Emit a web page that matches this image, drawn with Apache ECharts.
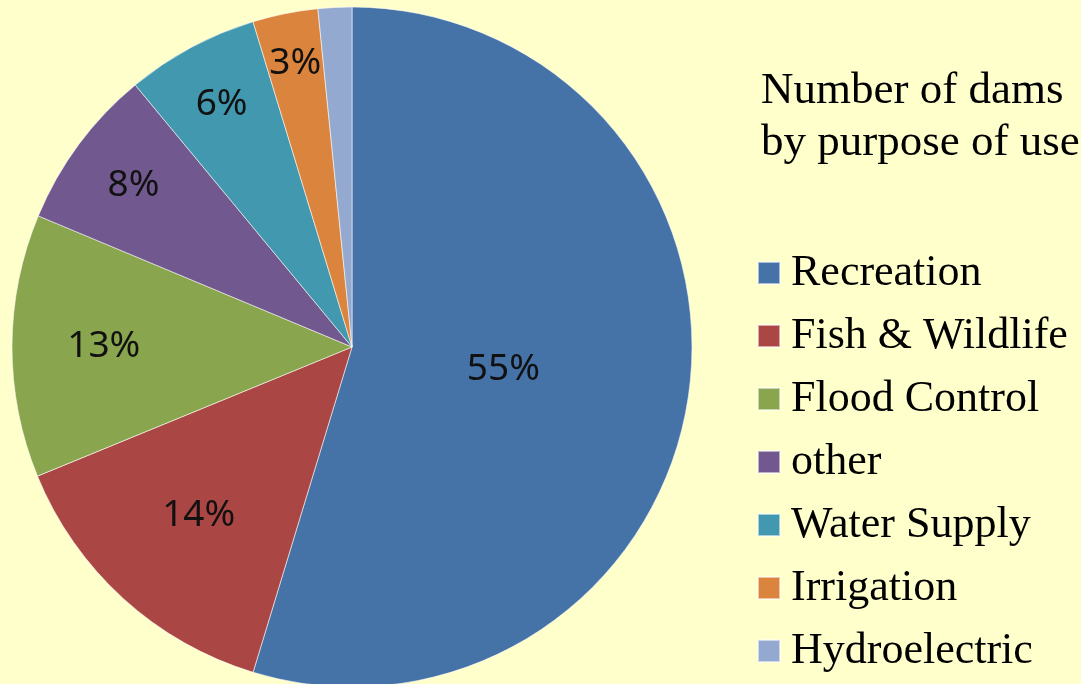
<!DOCTYPE html>
<html>
<head>
<meta charset="utf-8">
<script src="https://cdn.jsdelivr.net/npm/echarts@6/dist/echarts.min.js"></script>
<style>
  html, body { margin: 0; padding: 0; background: #FFFFCC; }
  #pie { width: 1081px; height: 684px; }
</style>
</head>
<body>
<div id="pie"></div>
<script>
  // values (percent of dams)
  const purposes = ['Recreation', 'Fish & Wildlife', 'Flood Control', 'other', 'Water Supply', 'Irrigation', 'Hydroelectric']
  const shares = [54.7, 14.1, 12.5, 7.7, 6.3, 3.1, 1.6]
  const colors = ['#4572A7', '#AA4643', '#89A54E', '#71588F', '#4198AF', '#DB843D', '#93A9CF']

  const cx = 352, cy = 347, r = 340
  const total = shares.reduce((a, b) => a + b, 0)

  // where Excel-ish best fit puts each label, as a fraction of radius
  function labelFrac(p) {
    if (p > 40) return 0.45
    if (p > 13) return 0.67
    if (p > 10) return 0.73
    if (p > 7) return 0.8
    if (p > 5) return 0.81
    return 0.85
  }

  let pieChart = echarts.init(document.getElementById('pie'))
  const option = {
    backgroundColor: '#FFFFCC',
    color: colors,
    title: {
      text: 'Number of dams\nby purpose of use',
      left: 756,
      top: 60,
      textStyle: {
        fontFamily: 'Liberation Serif',
        fontSize: 45,
        fontWeight: 'normal',
        color: '#000',
        lineHeight: 52
      }
    },
    legend: {
      orient: 'vertical',
      left: 752,
      top: 246,
      height: 460,
      icon: 'rect',
      itemWidth: 22,
      itemHeight: 22,
      itemGap: 19,
      textStyle: {
        fontFamily: 'Liberation Serif',
        fontSize: 44,
        color: '#000',
        lineHeight: 44,
        padding: [0, 0, 0, 6]
      },
      data: purposes
    },
    series: [
      {
        name: 'Number of dams',
        type: 'pie',
        center: [cx, cy],
        radius: r,
        startAngle: 90,
        clockwise: true,
        avoidLabelOverlap: false,
        silent: true,
        itemStyle: {
          borderColor: 'rgba(255,255,255,0.55)',
          borderWidth: 1
        },
        label: {
          show: true,
          position: 'inside',
          fontFamily: 'Noto Sans',
          fontSize: 37,
          color: '#111',
          formatter: p => p.dataIndex === purposes.length - 1 ? '' : Math.round(p.value) + '%'
        },
        labelLine: { show: false },
        labelLayout: function (params) {
          const i = params.dataIndex
          let before = 0
          for (let k = 0; k < i; k++) before += shares[k]
          const mid = (before + shares[i] / 2) / total * Math.PI * 2
          const d = r * labelFrac(shares[i])
          return {
            x: cx + d * Math.sin(mid),
            y: cy - d * Math.cos(mid),
            align: 'center',
            verticalAlign: 'middle'
          }
        },
        data: purposes.map((name, i) => ({ name: name, value: shares[i] }))
      }
    ]
  }
  pieChart.setOption(option)
</script>
</body>
</html>
